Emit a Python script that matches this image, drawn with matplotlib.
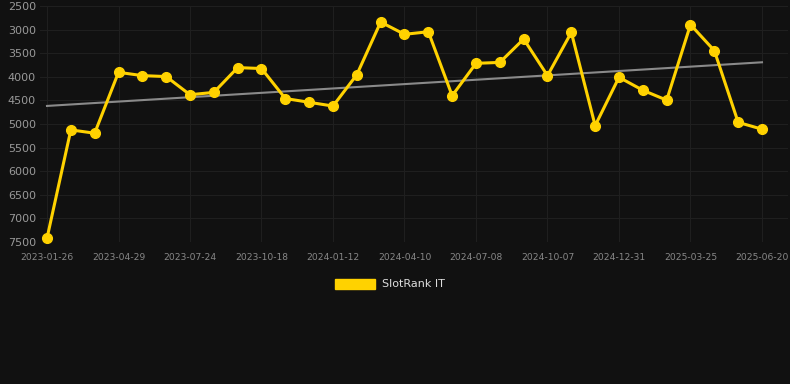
import numpy as np
import matplotlib
matplotlib.use("Agg")
import matplotlib.pyplot as plt
from matplotlib.patches import Patch

dates = ["2023-01-26", "2023-02-26", "2023-03-29", "2023-04-29", "2023-05-29",
         "2023-06-26", "2023-07-24", "2023-08-24", "2023-09-20", "2023-10-18",
         "2023-11-15", "2023-12-14", "2024-01-12", "2024-02-12", "2024-03-12",
         "2024-04-10", "2024-05-10", "2024-06-08", "2024-07-08", "2024-08-08",
         "2024-09-07", "2024-10-07", "2024-11-03", "2024-12-02", "2024-12-31",
         "2025-01-28", "2025-02-25", "2025-03-25", "2025-04-24", "2025-05-22",
         "2025-06-20"]
rank = [7420, 5125, 5195, 3905, 3975, 3995, 4380, 4330, 3805, 3825,
        4460, 4540, 4620, 3955, 2840, 3100, 3045, 4400, 3715, 3695,
        3200, 3975, 3060, 5035, 4010, 4285, 4495, 2895, 3445, 4965,
        5110]
yticks = [2500, 3000, 3500, 4000, 4500, 5000, 5500, 6000, 6500, 7000, 7500]

bg = "#111111"
gold = "#ffd200"

x = np.arange(len(rank))
# linear trend of the rank series
coef = np.polyfit(x, rank, 1)
trend = np.polyval(coef, x)

fig = plt.figure(figsize=(7.9, 3.84), dpi=100, facecolor=bg)
ax = fig.add_axes([40 / 790, (384 - 242) / 384, 748 / 790, 236 / 384])
ax.set_facecolor(bg)

ax.plot(x, trend, color="#8a8a8a", lw=1.5, zorder=2)
ax.plot(x, rank, color=gold, lw=2.2, marker="o", ms=7, zorder=3, clip_on=False)

ax.set_xlim(-7 / 23.83, 30 + 26 / 23.83)
ax.set_ylim(7500, 2500)
ax.set_yticks(yticks)
ax.set_yticklabels([str(t) for t in yticks])
ax.set_xticks(x[::3])
ax.set_xticklabels(dates[::3])

ax.grid(True, color="#1f1f1f", lw=0.8)
ax.set_axisbelow(True)
for s in ax.spines.values():
    s.set_visible(False)
ax.tick_params(axis="y", length=0, pad=3, labelsize=8, labelcolor="#999999")
ax.tick_params(axis="x", length=0, pad=8, labelsize=6.6, labelcolor="#888888")

fig.legend(handles=[Patch(facecolor=gold, edgecolor=gold)], labels=["SlotRank IT"],
           loc="center", bbox_to_anchor=(390 / 790, 1 - 284 / 384), frameon=False,
           fontsize=8, labelcolor="#dddddd", handlelength=3.6, handleheight=1.0,
           handletextpad=0.6)

fig.savefig("out.png", dpi=100, facecolor=bg)
